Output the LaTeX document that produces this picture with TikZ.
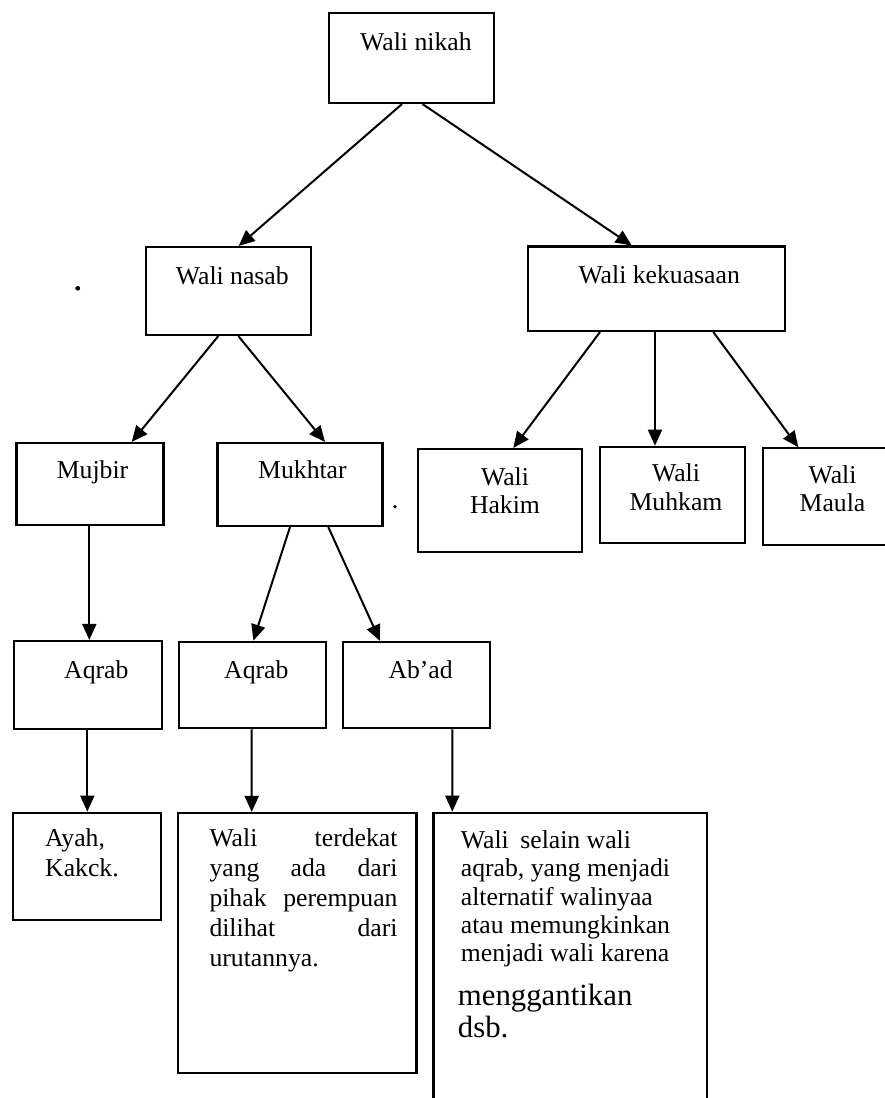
\documentclass[tikz,border=0pt]{standalone}
\usepackage{fontspec}
\setmainfont{Liberation Serif}
\usetikzlibrary{arrows.meta}
\begin{document}
\begin{tikzpicture}[x=1pt,y=-1pt,
  box/.style={draw, line width=2.1pt, inner sep=0pt, rectangle},
  lbl/.style={inner sep=0pt, anchor=base west, font=\fontsize{25.7}{30}\selectfont},
  lbc/.style={inner sep=0pt, anchor=base, font=\fontsize{25.7}{28.3}\selectfont},
  arr/.style={line width=2pt, -{Triangle[length=16pt,width=14pt]}}]
\useasboundingbox (0,0) rectangle (885,1098);
\fill[white] (0,0) rectangle (885,1098);

% boxes
\node[box, minimum width=165pt, minimum height=90pt] (nikah) at (411.5,58) {};
\node[box, minimum width=165pt, minimum height=88pt] (nasab) at (228.5,291) {};
\node[box, minimum width=257pt, minimum height=84.5pt] (kek) at (656.5,288.75) {};
\node[box, minimum width=147pt, minimum height=82pt] (mujbir) at (90,484) {};
\node[box, minimum width=165pt, minimum height=83pt] (mukhtar) at (300,484.5) {};
\node[box, minimum width=163.4pt, minimum height=102.7pt] (hakim) at (500,500.3) {};
\node[box, minimum width=145pt, minimum height=96pt] (muhkam) at (672.5,494.7) {};
\node[box, minimum width=122.7pt, minimum height=96.7pt] (maula) at (824.65,496.65) {};
\node[box, minimum width=147.7pt, minimum height=88.3pt] (aqrabA) at (87.85,685.15) {};
\node[box, minimum width=146.7pt, minimum height=86.6pt] (aqrabB) at (252.35,685) {};
\node[box, minimum width=146.7pt, minimum height=86.3pt] (abad) at (416.65,685.15) {};
\node[box, minimum width=147.4pt, minimum height=107.3pt] (ayah) at (87,866.35) {};
\node[box, minimum width=238.2pt, minimum height=260.3pt] (terdekat) at (297.4,943.15) {};
\node[box, minimum width=273.5pt, minimum height=287.3pt] (selain) at (570.25,956.35) {};

% labels
\node[lbl] (tnikah) at (360,50) {Wali nikah};
\node[lbl] (tnasab) at (175.7,284) {Wali nasab};
\node[lbl] (tkek) at (578.3,283.3) {Wali kekuasaan};
\node[lbl] (tmujbir) at (56.7,478.3) {Mujbir};
\node[lbl] (tmukhtar) at (258,478.3) {Mukhtar};
\node[lbc] (thakim) at (505,485) {\parbox[t]{140pt}{\centering Wali\\Hakim}};
\node[lbc] (tmuhkam) at (676,481.7) {\parbox[t]{140pt}{\centering Wali\\Muhkam}};
\node[lbc] (tmaula) at (832.5,483) {\parbox[t]{110pt}{\centering Wali\\Maula}};
\node[lbl] (taqrabA) at (64,678.3) {Aqrab};
\node[lbl] (taqrabB) at (224,678.3) {Aqrab};
\node[lbl] (tabad) at (388.3,678.3) {Ab’ad};
\node[lbl] (tayah) at (45,846.7) {\parbox[t]{100pt}{\parindent=0pt Ayah,\\Kakck.}};
\node[lbl] (tterdekat) at (209.3,846.7) {\parbox[t]{188pt}{\parindent=0pt
  Wali\hfill terdekat\\
  yang\hfill ada\hfill dari\\
  pihak\hfill perempuan\\
  dilihat\hfill dari\\
  urutannya.}};
\node[lbl] (tselain) at (460.7,848.3) {\parbox[t]{240pt}{\baselineskip=28.35pt\parindent=0pt
  Wali\hspace{0.45em}selain wali\\
  aqrab, yang menjadi\\
  alternatif walinyaa\\
  atau memungkinkan\\
  menjadi wali karena}};
\node[inner sep=0pt, anchor=base west, font=\fontsize{30.8}{32.3}\selectfont] (tmengg) at (457.7,1005)
  {\parbox[t]{200pt}{\parindent=0pt menggantikan\\dsb.}};

% stray dots
\fill (77.7,288.3) circle (2.4pt);
\fill (395,506.7) circle (1.8pt);

% connectors
\draw[arr] ([xshift=-9.5pt]nikah.south) -- ([xshift=10.2pt]nasab.north);
\draw[arr] ([xshift=11pt]nikah.south) -- ([xshift=-24.8pt]kek.north);
\draw[arr] ([xshift=-10.2pt]nasab.south) -- ([xshift=41.7pt]mujbir.north);
\draw[arr] ([xshift=9.8pt]nasab.south) -- ([xshift=25pt]mukhtar.north);
\draw[arr] ([xshift=-56.5pt]kek.south) -- ([xshift=13.3pt]hakim.north);
\draw[arr] ([xshift=-1.5pt]kek.south) -- ([xshift=-17.5pt]muhkam.north);
\draw[arr] ([xshift=56.8pt]kek.south) -- ([xshift=-26.35pt]maula.north);
\draw[arr] ([xshift=-0.7pt]mujbir.south) -- ([xshift=1.45pt]aqrabA.north);
\draw[arr] ([xshift=-10pt]mukhtar.south) -- ([xshift=1pt]aqrabB.north);
\draw[arr] ([xshift=28.3pt]mukhtar.south) -- ([xshift=-36.65pt]abad.north);
\draw[arr] ([xshift=-0.55pt]aqrabA.south) -- ([xshift=0.3pt]ayah.north);
\draw[arr] ([xshift=-0.65pt]aqrabB.south) -- ([xshift=-45.7pt]terdekat.north);
\draw[arr] ([xshift=35.65pt]abad.south) -- ([xshift=-117.95pt]selain.north);
\end{tikzpicture}
\end{document}
